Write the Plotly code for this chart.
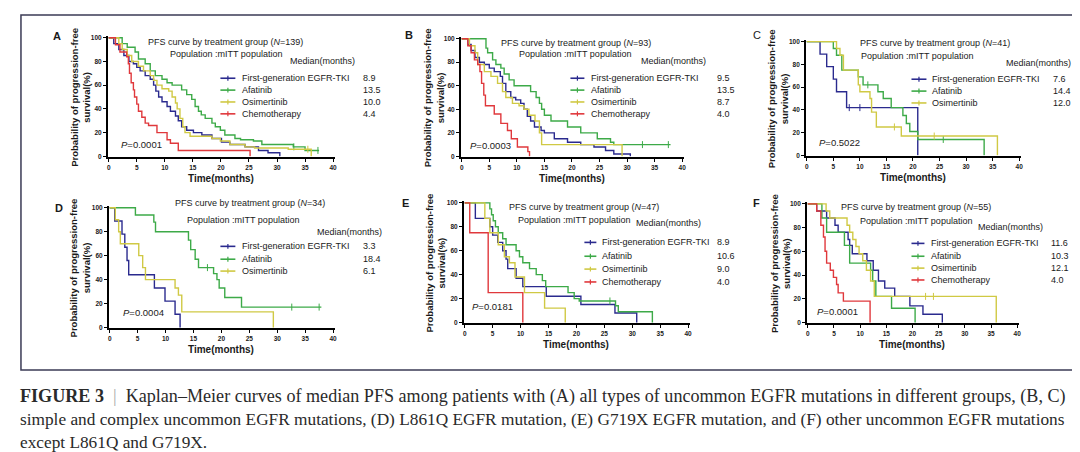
import plotly.graph_objects as go

W, H = 1080, 452
BLUE, GREEN, YELLOW, RED = "#2a2a8e", "#3daa48", "#d0c944", "#e0383c"
COLORS = [BLUE, GREEN, YELLOW, RED]
FONT = "Arial, Liberation Sans, sans-serif"
TXT = "#1a1a1a"

# ---------------- data ----------------
treatments = ["First-generation EGFR-TKI", "Afatinib", "Osimertinib", "Chemotherapy"]
panel_letters = ["A", "B", "C", "D", "E", "F"]
panel_N = [139, 93, 41, 34, 47, 55]
p_values = ["0.0001", "0.0003", "0.5022", "0.0004", "0.0181", "0.0001"]
medians_A = ["8.9", "13.5", "10.0", "4.4"]
medians_B = ["9.5", "13.5", "8.7", "4.0"]
medians_C = ["7.6", "14.4", "12.0"]
medians_D = ["3.3", "18.4", "6.1"]
medians_E = ["8.9", "10.6", "9.0", "4.0"]
medians_F = ["11.6", "10.3", "12.1", "4.0"]
x_ticks = [0, 5, 10, 15, 20, 25, 30, 35, 40]
y_ticks = [0, 20, 40, 60, 80, 100]

# Step curves: event times (months) and survival (%) after each step
A_first_t = [0, 0.9, 1.8, 2.7, 3.6, 4.4, 5.0, 5.6, 6.5, 7.4, 8.0, 8.4, 8.9, 9.5, 10.4, 11.0, 11.9, 12.4, 13.0, 13.9, 15.1, 16.6, 18.4, 20.1, 21.6, 24.3, 26.7, 28.4, 30.5]
A_first_s = [100, 95, 90, 85, 80, 78, 75, 72, 68, 65, 60, 55, 50, 46, 42, 38, 34, 30, 25, 22, 20, 18, 15, 12, 10, 8, 5, 3, 0]
A_afat_t = [0, 2.4, 3.3, 4.7, 5.3, 6.5, 7.4, 8.3, 9.5, 10.4, 11.3, 13.0, 13.9, 14.8, 15.4, 16.0, 16.5, 17.2, 18.4, 19.0, 19.9, 20.7, 22.5, 23.5, 25.8, 27.3, 32.9, 35.0, 37.5]
A_afat_s = [100, 95, 92, 88, 82, 78, 72, 68, 65, 62, 60, 56, 52, 48, 42, 38, 35, 32, 28, 25, 22, 18, 15, 14, 13, 10, 8, 5, 5]
A_osim_t = [0, 1.8, 2.4, 3.3, 4.1, 5.3, 6.2, 7.4, 8.0, 8.6, 9.5, 10.7, 11.3, 11.9, 12.2, 12.7, 13.2, 13.6, 14.5, 18.4, 19.9, 21.6, 24.3, 26.0, 32.0, 36.1]
A_osim_s = [100, 95, 90, 85, 80, 76, 72, 68, 64, 60, 57, 55, 50, 45, 40, 32, 25, 20, 17, 15, 13, 10, 8, 7, 6, 0]
A_chemo_t = [0, 1.2, 2.0, 3.2, 3.5, 3.7, 4.0, 4.4, 4.6, 5.0, 5.3, 5.9, 6.5, 7.1, 8.6, 10.4, 11.0, 12.4, 25.2]
A_chemo_s = [100, 94, 88, 84, 78, 70, 62, 56, 50, 44, 38, 33, 28, 26, 20, 14, 11, 5, 0]

B_first_t = [0, 1.1, 1.7, 2.4, 3.2, 4.1, 5.0, 5.9, 7.0, 7.4, 8.0, 8.9, 9.8, 10.7, 11.3, 11.9, 12.5, 13.2, 14.4, 15.0, 16.8, 19.2, 21.6, 24.0, 26.1, 27.6, 30.6]
B_first_s = [100, 95, 90, 84, 80, 78, 75, 72, 68, 62, 55, 50, 48, 45, 40, 34, 30, 25, 22, 20, 15, 12, 10, 8, 5, 2, 0]
B_afat_t = [0, 4.4, 4.7, 5.6, 6.2, 7.1, 7.7, 8.6, 9.5, 12.5, 13.5, 14.1, 14.5, 15.0, 16.2, 19.2, 21.6, 24.6, 27.0, 27.6, 37.9]
B_afat_s = [100, 92, 88, 82, 78, 75, 70, 65, 60, 55, 50, 45, 40, 35, 30, 25, 20, 15, 12, 10, 10]
B_osim_t = [0, 1.4, 2.4, 2.9, 4.1, 5.3, 6.5, 7.4, 8.0, 9.2, 10.4, 11.3, 12.2, 13.3, 14.1, 14.5, 29.1]
B_osim_s = [100, 94, 88, 78, 72, 68, 62, 55, 50, 45, 43, 40, 35, 30, 20, 10, 0]
B_chemo_t = [0, 1.1, 1.7, 2.3, 2.9, 3.3, 3.6, 4.0, 4.3, 5.9, 7.1, 8.3, 9.0, 10.1, 12.0, 12.3]
B_chemo_s = [100, 94, 88, 82, 78, 72, 62, 52, 43, 36, 28, 22, 15, 8, 4, 0]

C_first_t = [0, 2.5, 3.75, 5.0, 5.6, 7.5, 20.9]
C_first_s = [100, 89, 78, 67, 56, 42, 0]
C_afat_t = [0, 5.0, 5.6, 6.6, 9.7, 10.6, 13.4, 14.4, 15.9, 18.1, 18.75, 19.4, 20.9, 33.4]
C_afat_s = [100, 94, 88, 75, 69, 62, 56, 50, 42, 35, 28, 21, 14, 0]
C_osim_t = [0, 5.6, 6.25, 6.9, 9.7, 10.0, 11.9, 12.2, 13.1, 17.8, 35.9]
C_osim_s = [100, 94, 88, 75, 62, 56, 50, 38, 25, 17, 0]

D_first_t = [0, 0.9, 2.2, 2.7, 3.1, 3.4, 8.0, 9.9, 11.7, 12.6]
D_first_s = [100, 89, 78, 67, 56, 44, 33, 22, 11, 0]
D_afat_t = [0, 4.6, 7.9, 8.2, 14.1, 14.5, 15.3, 15.9, 18.6, 19.2, 19.6, 20.6, 23.6, 37.9]
D_afat_s = [100, 94, 88, 80, 73, 65, 57, 50, 45, 40, 33, 25, 17, 17]
D_osim_t = [0, 1.0, 1.6, 1.9, 5.2, 5.9, 6.4, 11.7, 12.3, 12.9, 29.3]
D_osim_s = [100, 90, 80, 70, 60, 50, 40, 33, 27, 13, 0]

E_first_t = [0, 1.9, 4.5, 5.0, 5.9, 6.8, 7.4, 7.7, 9.2, 10.4, 14.6, 20.8, 26.9, 30.8]
E_first_s = [100, 87, 80, 73, 67, 60, 53, 45, 37, 30, 22, 15, 8, 0]
E_afat_t = [0, 4.5, 4.8, 5.1, 5.5, 6.0, 6.8, 7.4, 9.2, 9.8, 10.4, 11.6, 12.8, 13.9, 14.5, 18.5, 19.6, 20.5, 27.0, 27.5, 33.6]
E_afat_s = [100, 95, 90, 85, 80, 75, 70, 65, 60, 55, 50, 45, 40, 35, 30, 25, 20, 18, 14, 9, 0]
E_osim_t = [0, 3.6, 4.5, 6.0, 7.1, 8.0, 9.0, 10.7, 14.3, 18.0]
E_osim_s = [100, 87, 75, 65, 55, 50, 38, 25, 12, 0]
E_chemo_t = [0, 0.9, 4.2, 10.4]
E_chemo_s = [100, 75, 25, 0]

F_first_t = [0, 1.7, 3.6, 5.2, 5.8, 7.7, 8.0, 8.5, 11.3, 12.5, 13.5, 14.7, 16.6, 19.5, 22.0, 25.7]
F_first_s = [100, 94, 88, 82, 76, 70, 65, 58, 52, 44, 35, 29, 22, 14, 7, 0]
F_afat_t = [0, 2.7, 3.6, 7.0, 8.0, 12.0, 12.4, 13.0, 16.0, 20.5]
F_afat_s = [100, 88, 76, 65, 50, 44, 35, 22, 12, 0]
F_osim_t = [0, 3.5, 4.2, 7.5, 8.0, 8.6, 9.2, 9.8, 10.5, 11.2, 12.0, 12.7, 36.0]
F_osim_s = [100, 94, 88, 82, 76, 70, 64, 58, 52, 44, 35, 22, 0]
F_chemo_t = [0, 1.7, 2.5, 3.0, 3.3, 3.6, 4.3, 4.9, 5.5, 5.8, 6.8, 11.9]
F_chemo_s = [100, 94, 82, 72, 60, 50, 44, 38, 32, 25, 18, 0]

# censored observations (months) per panel/series
A_censor = [[], [33.0, 37.3], [35.5], []]
B_censor = [[], [32.8, 37.5], [], []]
C_censor = [[8.0, 10.0], [11.5, 25.7], [16.5, 24.0]]
D_censor = [[], [17.5, 32.6, 37.5], []]
E_censor = [[], [26.0], [], []]
F_censor = [[], [], [22.5, 24.0], []]

curves = [
    [(A_first_t, A_first_s), (A_afat_t, A_afat_s), (A_osim_t, A_osim_s), (A_chemo_t, A_chemo_s)],
    [(B_first_t, B_first_s), (B_afat_t, B_afat_s), (B_osim_t, B_osim_s), (B_chemo_t, B_chemo_s)],
    [(C_first_t, C_first_s), (C_afat_t, C_afat_s), (C_osim_t, C_osim_s)],
    [(D_first_t, D_first_s), (D_afat_t, D_afat_s), (D_osim_t, D_osim_s)],
    [(E_first_t, E_first_s), (E_afat_t, E_afat_s), (E_osim_t, E_osim_s), (E_chemo_t, E_chemo_s)],
    [(F_first_t, F_first_s), (F_afat_t, F_afat_s), (F_osim_t, F_osim_s), (F_chemo_t, F_chemo_s)],
]
censors = [A_censor, B_censor, C_censor, D_censor, E_censor, F_censor]
medians = [medians_A, medians_B, medians_C, medians_D, medians_E, medians_F]

# ---------------- layout positions (pixels) ----------------
L = [
    dict(px=(100, 325), py=(28, 148), letter=(48, 26), yt=71, title=(217, 32), pop=(218, 44), med=(280, 52),
         ll=(212, 227), lt=232, rows=[69, 81, 93, 105], vx=353, p=(110, 136)),
    dict(px=(454, 675), py=(29, 148), letter=(401, 25), yt=426, title=(569, 33), pop=(568, 44), med=(632, 52),
         ll=(563, 577), lt=582, rows=[69, 81, 93, 105], vx=708, p=(460, 137)),
    dict(px=(800, 1013), py=(32, 147), letter=(750, 25), yt=771, title=(929, 33), pop=(911, 47), med=(998, 54),
         ll=(905, 920), lt=924, rows=[70, 82, 94], vx=1045, p=(810, 134)),
    dict(px=(101, 325), py=(200, 321), letter=(50, 200), yt=71, title=(242, 195), pop=(235, 212), med=(307, 224),
         ll=(212, 227), lt=232, rows=[239, 252, 264], vx=353, p=(112, 306)),
    dict(px=(457, 681), py=(195, 316), letter=(398, 195), yt=428, title=(577, 199), pop=(567, 212), med=(627, 215),
         ll=(577, 589), lt=593, rows=[235, 249, 262, 275], vx=708, p=(462, 300)),
    dict(px=(801, 1011), py=(196, 316), letter=(750, 195), yt=773, title=(910, 199), pop=(910, 213), med=(970, 219),
         ll=(905, 918), lt=923, rows=[236, 249, 261, 273], vx=1043, p=(808, 305)),
]


def fx(p):
    return p / W


def fy(p):
    return 1 - p / H


def step_value(ts, ss, t):
    v = ss[0]
    for ti, si in zip(ts, ss):
        if ti <= t:
            v = si
    return v


fig = go.Figure()
annotations = []
shapes = []

XR = [-0.15, 40.4]
YR = [-0.4, 101.2]

for i in range(6):
    lay = L[i]
    xa = "x" if i == 0 else f"x{i+1}"
    ya = "y" if i == 0 else f"y{i+1}"
    xkey = "xaxis" if i == 0 else f"xaxis{i+1}"
    ykey = "yaxis" if i == 0 else f"yaxis{i+1}"
    x0p, x40p = lay["px"]
    y100p, y0p = lay["py"]
    sx = (x40p - x0p) / 40.0
    sy = (y0p - y100p) / 100.0
    dx0 = x0p + XR[0] * sx
    dx1 = x0p + XR[1] * sx
    dy_bot = y0p - YR[0] * sy
    dy_top = y0p - YR[1] * sy
    fig.layout[xkey] = dict(domain=[fx(dx0), fx(dx1)], range=XR, anchor=ya, showgrid=False, zeroline=False,
                            showline=True, linecolor="black", linewidth=1.8, ticks="outside", ticklen=3,
                            tickwidth=1.3, tickcolor="black", tickvals=x_ticks,
                            tickfont=dict(family=FONT, size=6.5, color=TXT, weight="bold"), fixedrange=True)
    fig.layout[ykey] = dict(domain=[fy(dy_bot), fy(dy_top)], range=YR, anchor=xa, showgrid=False, zeroline=False,
                            showline=True, linecolor="black", linewidth=1.8, ticks="outside", ticklen=3,
                            tickwidth=1.3, tickcolor="black", tickvals=y_ticks,
                            tickfont=dict(family=FONT, size=6.5, color=TXT, weight="bold"), fixedrange=True)

    for k, (ts, ss) in enumerate(curves[i]):
        fig.add_trace(go.Scatter(x=ts, y=ss, mode="lines", line=dict(color=COLORS[k], width=1.4, shape="hv"),
                                 xaxis=xa, yaxis=ya, showlegend=False, hoverinfo="skip"))
        cts = censors[i][k]
        if cts:
            fig.add_trace(go.Scatter(x=cts, y=[step_value(ts, ss, c) for c in cts], mode="markers",
                                     marker=dict(symbol="line-ns", size=5, line=dict(color=COLORS[k], width=1)),
                                     xaxis=xa, yaxis=ya, showlegend=False, hoverinfo="skip"))

    def ann(text, xp, yp, xanchor="left", size=9, **kw):
        d = dict(text=text, x=fx(xp), y=fy(yp), xref="paper", yref="paper", xanchor=xanchor, yanchor="middle",
                 showarrow=False, font=dict(family=FONT, size=size, color=kw.pop("color", TXT),
                                            weight=kw.pop("weight", "normal")))
        d.update(kw)
        annotations.append(d)

    ann(panel_letters[i], lay["letter"][0], lay["letter"][1], xanchor="center", size=11,
        weight="bold" if panel_letters[i] not in ("C",) else "normal")
    ann(f"PFS curve by treatment group (<i>N</i>={panel_N[i]})", lay["title"][0], lay["title"][1],
        xanchor="center", size=9)
    ann("Population :mITT population", lay["pop"][0], lay["pop"][1], xanchor="center", size=9)
    ann("Median(months)", lay["med"][0], lay["med"][1], size=9)
    ann(f"<i>P</i>=0.{p_values[i][2:]}", lay["p"][0], lay["p"][1], size=9.5)
    ann("Probability of progression-free<br>survival(%)", lay["yt"], (y100p + y0p) / 2, xanchor="center",
        size=9.5, weight="bold", textangle=-90)
    ann("Time(months)", (x0p + x40p) / 2, y0p + 22, xanchor="center", size=10, weight="bold")

    for k, row in enumerate(lay["rows"]):
        ann(treatments[k], lay["lt"], row, size=9)
        ann(medians[i][k], lay["vx"], row, size=9)
        shapes.append(dict(type="line", xref="paper", yref="paper", x0=fx(lay["ll"][0]), x1=fx(lay["ll"][1]),
                           y0=fy(row), y1=fy(row), line=dict(color=COLORS[k], width=1.6)))
        mid = (lay["ll"][0] + lay["ll"][1]) / 2
        shapes.append(dict(type="line", xref="paper", yref="paper", x0=fx(mid), x1=fx(mid),
                           y0=fy(row - 2.5), y1=fy(row + 2.5), line=dict(color=COLORS[k], width=1.2)))

# outer frame
shapes.append(dict(type="rect", xref="paper", yref="paper", x0=fx(12), x1=fx(1068), y0=fy(364), y1=fy(5),
                   line=dict(color="#3b3b55", width=1.5), fillcolor="rgba(0,0,0,0)"))

# caption
SERIF = "Liberation Serif, Times New Roman, serif"
cap_lines = [
    "<b>FIGURE 3</b>  <span style='color:#aaaaaa'>|</span>  Kaplan–Meier curves of median PFS among patients with (A) all types of uncommon EGFR mutations in different groups, (B, C)",
    "simple and complex uncommon EGFR mutations, (D) L861Q EGFR mutation, (E) G719X EGFR mutation, and (F) other uncommon EGFR mutations",
    "except L861Q and G719X.",
]
cap_sizes = [18.1, 17.3, 17.3]
for j, line in enumerate(cap_lines):
    annotations.append(dict(text=line, x=fx(9), y=fy(391 + 23 * j), xref="paper", yref="paper", xanchor="left",
                            yanchor="middle", showarrow=False,
                            font=dict(family=SERIF, size=cap_sizes[j], color="#2a2a2a")))

fig.update_layout(width=W, height=H, margin=dict(l=0, r=0, t=0, b=0), paper_bgcolor="white",
                  plot_bgcolor="white", annotations=annotations, shapes=shapes, showlegend=False)

fig.write_html("out.html")
